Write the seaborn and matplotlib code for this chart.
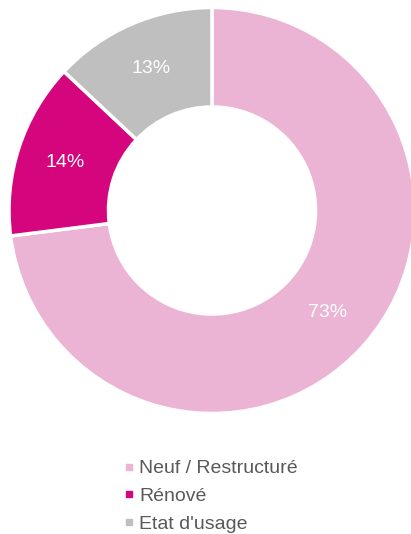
import matplotlib
matplotlib.use("Agg")
import matplotlib.pyplot as plt
from matplotlib.lines import Line2D
import seaborn as sns

categories = ["Neuf / Restructuré", "Rénové", "Etat d'usage"]
values = [73, 14, 13]
colors = ["#ECB4D4", "#D5057E", "#BFBFBF"]

sns.set_theme(style="white")
plt.rcParams['font.family'] = ['Liberation Sans', 'DejaVu Sans']

W, H = 411, 534
fig = plt.figure(figsize=(W / 100, H / 100), dpi=100)
cx, cy, R = 212, 210.5, 203
ax = fig.add_axes([(cx - R) / W, (H - cy - R) / H, 2 * R / W, 2 * R / H])

wedges, texts, autotexts = ax.pie(
    values, colors=colors, startangle=90, counterclock=False,
    radius=1, autopct=lambda p: f"{p:.0f}%", pctdistance=0.76,
    wedgeprops=dict(width=0.49, edgecolor="white", linewidth=2.5),
    textprops=dict(color="white", fontsize=14),
)
ax.set_xlim(-1, 1)
ax.set_ylim(-1, 1)
ax.axis("off")
for w in wedges:
    w.set_clip_on(False)

handles = [Line2D([0], [0], marker="s", linestyle="none", markersize=5,
                  markerfacecolor=c, markeredgecolor=c) for c in colors]
leg = fig.legend(handles, categories, loc="upper left",
                 bbox_to_anchor=(113 / W, 1 - 450 / H),
                 frameon=False, fontsize=14, handlelength=0.6,
                 handletextpad=0.25, labelspacing=0.52, borderpad=0)
for t in leg.get_texts():
    t.set_color("#595959")

fig.savefig("out.png", dpi=100)
